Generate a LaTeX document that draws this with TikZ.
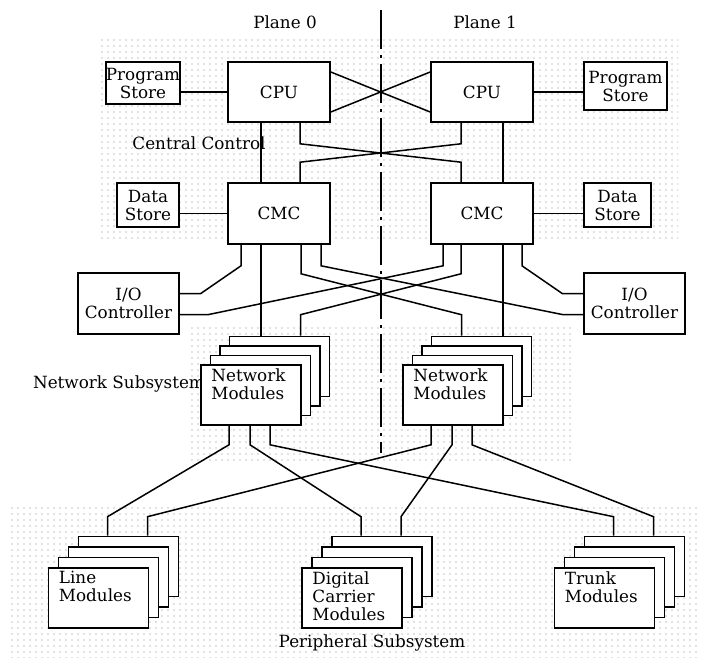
\documentclass[tikz,border=0pt]{standalone}
\usepackage{fontspec}
\setmainfont{DejaVu Serif}
\usetikzlibrary{patterns.meta}
\tikzset{
  unit/.style={draw, fill=white, line width=1.6pt, inner sep=0pt, align=center},
  card/.style={draw, fill=white, line width=1.6pt, inner sep=0pt, minimum width=100pt, minimum height=60pt},
  cardtext/.style={anchor=north west, inner sep=0pt, align=left, xshift=11pt, yshift=-4pt},
  wire/.style={line width=1.5pt},
  dotted area/.style={pattern={Dots[distance=6pt, radius=0.6pt]}, pattern color=black!50},
}
\begin{document}
\begin{tikzpicture}[x=1pt, y=-1pt, font=\fontsize{16.8}{18}\selectfont]
	\useasboundingbox (0,0) rectangle (702,658);

	% subsystem areas
	\path[dotted area] (97,40) rectangle (678,238);
	\path[dotted area] (190,325) rectangle (573,463);
	\path[dotted area] (8,504) rectangle (700,658);

	\node at (285,22) (plane0) {Plane 0};
	\node at (485,22) (plane1) {Plane 1};
	\node at (199,143) (ccLabel) {Central Control};
	\node at (119,384) (nsLabel) {Network Subsystem};
	\node at (372,643) (psLabel) {Peripheral Subsystem};

	% plane divider
	\coordinate (divTop) at (381,10);
	\coordinate (divBot) at (381,453);
	\draw[line width=1.4pt, dash pattern=on 39pt off 6pt on 3pt off 6pt] (divTop) -- (divBot);

	% central control
	\node[unit, minimum width=72pt, minimum height=42pt] at (143,83) (psL) {Program\\Store};
	\node[unit, minimum width=102pt, minimum height=60pt] at (279,92) (cpuL) {CPU};
	\node[unit, minimum width=102pt, minimum height=60pt] at (482,92) (cpuR) {CPU};
	\node[unit, minimum width=83pt, minimum height=48pt] at (625.5,86) (psR) {Program\\Store};
	\node[unit, minimum width=62pt, minimum height=44pt] at (148,205) (dsL) {Data\\Store};
	\node[unit, minimum width=102pt, minimum height=61pt] at (279,213.5) (cmcL) {CMC};
	\node[unit, minimum width=102pt, minimum height=61pt] at (482,213.5) (cmcR) {CMC};
	\node[unit, minimum width=67pt, minimum height=44pt] at (617.5,205) (dsR) {Data\\Store};
	\node[unit, minimum width=101pt, minimum height=61pt] at (128.5,303.5) (ioL) {I/O\\Controller};
	\node[unit, minimum width=101pt, minimum height=61pt] at (634.5,303.5) (ioR) {I/O\\Controller};

	% module stacks
	\foreach \n/\cx/\cy/\dx/\dy/\txt in {
		nmL/251/395/9.5/9.5/{Network\\Modules},
		nmR/453/395/9.5/9.5/{Network\\Modules},
		lm/98.5/598/10/10.5/{Line\\Modules},
		dcm/352/598/10/10.5/{Digital\\Carrier\\Modules},
		tm/604.5/598/10/10.5/{Trunk\\Modules}}{
		\foreach \i in {3,2,1}
			\node[card] at (\cx+\i*\dx, \cy-\i*\dy) (\n\i) {};
		\node[card, label={[cardtext]north west:\txt}] at (\cx,\cy) (\n0) {};
	}

	\draw[wire] (cpuL.west) -- (cpuL.west -| psL.east);
	\draw[wire] (cpuR.east) -- (cpuR.east -| psR.west);
	\draw[wire] (cmcL.west) -- (cmcL.west -| dsL.east);
	\draw[wire] (cmcR.east) -- (cmcR.east -| dsR.west);

	\draw[wire] ([yshift=20pt]cpuL.east) -- ([yshift=-20pt]cpuR.west);
	\draw[wire] ([yshift=-20pt]cpuL.east) -- ([yshift=20pt]cpuR.west);

	\draw[wire] ([xshift=-18pt]cpuL.south) -- ([xshift=-18pt]cmcL.north);
	\draw[wire] ([xshift=21pt]cpuR.south) -- ([xshift=21pt]cmcR.north);
	\draw[wire] ([xshift=21pt]cpuL.south) -- ++(0,21) -- ([xshift=-21pt,yshift=20pt]cmcR.north) -- ([xshift=-21pt]cmcR.north);
	\draw[wire] ([xshift=-21pt]cpuR.south) -- ++(0,21) -- ([xshift=21pt,yshift=20pt]cmcL.north) -- ([xshift=21pt]cmcL.north);

	\draw[wire] ([xshift=-38pt]cmcL.south) -- ++(0,21) -- ([xshift=21pt,yshift=10pt]ioL.east) -- ([yshift=10pt]ioL.east);
	\draw[wire] ([yshift=-11pt]ioL.east) -- ++(29,0) -- ([xshift=-39pt,yshift=-21pt]cmcR.south) -- ([xshift=-39pt]cmcR.south);
	\draw[wire] ([xshift=40pt]cmcR.south) -- ++(0,21) -- ([xshift=-21pt,yshift=10pt]ioR.west) -- ([yshift=10pt]ioR.west);
	\draw[wire] ([xshift=42pt]cmcL.south) -- ++(0,21) -- ([xshift=-21pt,yshift=-11pt]ioR.west) -- ([yshift=-11pt]ioR.west);

	\draw[wire] ([xshift=-18pt]cmcL.south) -- ([xshift=-18pt]cmcL.south |- nmL3.north);
	\draw[wire] ([xshift=21pt]cmcR.south) -- ([xshift=21pt]cmcR.south |- nmR3.north);
	\draw[wire] ([xshift=22pt]cmcL.south) -- ++(0,29) -- ([xshift=-20pt,yshift=21pt]nmR3.north) -- ([xshift=-20pt]nmR3.north);
	\draw[wire] ([xshift=-21pt]cmcR.south) -- ++(0,29) -- ([xshift=21pt,yshift=21pt]nmL3.north) -- ([xshift=21pt]nmL3.north);

	\draw[wire] ([xshift=-22pt]nmL0.south) -- ++(0,19) -- ([xshift=-21pt,yshift=19pt]lm3.north) -- ([xshift=-21pt]lm3.north);
	\draw[wire] ([xshift=-1pt]nmL0.south) -- ++(0,19) -- ([xshift=-21pt,yshift=19pt]dcm3.north) -- ([xshift=-21pt]dcm3.north);
	\draw[wire] ([xshift=19pt]nmL0.south) -- ++(0,19) -- ([xshift=-21pt,yshift=19pt]tm3.north) -- ([xshift=-21pt]tm3.north);
	\draw[wire] ([xshift=-22pt]nmR0.south) -- ++(0,19) -- ([xshift=19pt,yshift=19pt]lm3.north) -- ([xshift=19pt]lm3.north);
	\draw[wire] ([xshift=-1pt]nmR0.south) -- ++(0,19) -- ([xshift=19pt,yshift=19pt]dcm3.north) -- ([xshift=19pt]dcm3.north);
	\draw[wire] ([xshift=19pt]nmR0.south) -- ++(0,19) -- ([xshift=19pt,yshift=19pt]tm3.north) -- ([xshift=19pt]tm3.north);
\end{tikzpicture}
\end{document}
